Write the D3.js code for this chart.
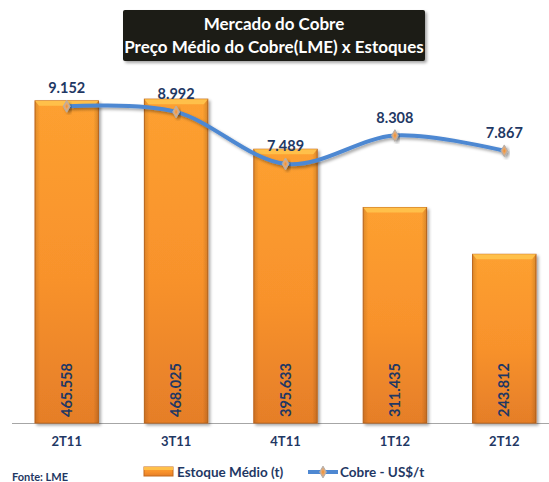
<!DOCTYPE html>
<html><head><meta charset="utf-8">
<script src="https://cdn.jsdelivr.net/npm/d3@7"></script>
<style>
html,body{margin:0;padding:0;background:#fff;}
svg{display:block;font-family:Lato,"Open Sans",sans-serif;}
</style></head>
<body><svg id="c" width="549" height="482"></svg>
<script>
const categories = ["2T11","3T11","4T11","1T12","2T12"];
const stockValues = [465558, 468025, 395633, 311435, 243812];
const priceValues = [9152, 8992, 7489, 8308, 7867];
const stockDomain = [0, 500000];
const priceDomain = [0, 10000];
const titleLines = ["Mercado do Cobre", "Preço Médio do Cobre(LME) x Estoques"];
const sourceText = "Fonte: LME";
const legendLabels = ["Estoque Médio (t)", "Cobre - US$/t"];

const ptBR = d3.formatLocale({decimal:",", thousands:".", grouping:[3], currency:["R$",""]});
const fmt = ptBR.format(",d");
const navy = "#1f3864";

const svg = d3.select("#c");
const defs = svg.append("defs");
const g1 = defs.append("linearGradient").attr("id","barGrad").attr("x1",0).attr("y1",0).attr("x2",0).attr("y2",1);
g1.append("stop").attr("offset","0%").attr("stop-color","#fda030");
g1.append("stop").attr("offset","55%").attr("stop-color","#f8922c");
g1.append("stop").attr("offset","100%").attr("stop-color","#e57e28");
const g2 = defs.append("linearGradient").attr("id","barSide").attr("x1",0).attr("y1",0).attr("x2",1).attr("y2",0);
g2.append("stop").attr("offset","0%").attr("stop-color","#000").attr("stop-opacity",0.12);
g2.append("stop").attr("offset","8%").attr("stop-color","#000").attr("stop-opacity",0);
g2.append("stop").attr("offset","92%").attr("stop-color","#000").attr("stop-opacity",0);
g2.append("stop").attr("offset","100%").attr("stop-color","#000").attr("stop-opacity",0.15);
const g3 = defs.append("radialGradient").attr("id","mkGrad");
g3.append("stop").attr("offset","0%").attr("stop-color","#f0902a");
g3.append("stop").attr("offset","45%").attr("stop-color","#e8a870");
g3.append("stop").attr("offset","100%").attr("stop-color","#b8b0aa");
const f = defs.append("filter").attr("id","shadow").attr("x","-20%").attr("y","-20%").attr("width","140%").attr("height","140%");
f.append("feDropShadow").attr("dx",2).attr("dy",2).attr("stdDeviation",1.5).attr("flood-color","#000").attr("flood-opacity",0.35);

const x = d3.scaleBand().domain(categories).range([12, 559]).paddingInner(0.42).paddingOuter(0.21);
const yS = d3.scaleLinear().domain(stockDomain).range([423, 77]);
const yP = d3.scaleLinear().domain(priceDomain).range([423, 77]);

// Title box
svg.append("rect").attr("x",123).attr("y",10).attr("width",302).attr("height",51).attr("rx",2)
  .attr("fill","#1b1a14").attr("filter","url(#shadow)");
svg.selectAll("text.title").data(titleLines).join("text").attr("class","title")
  .attr("x",274).attr("y",(d,i)=>30+i*23).attr("text-anchor","middle")
  .attr("fill","#fff").attr("font-weight","bold").attr("font-size",17).text(d=>d);

// baseline
svg.append("line").attr("x1",12).attr("x2",549).attr("y1",423.5).attr("y2",423.5)
  .attr("stroke","#a6a6a6").attr("stroke-width",1);

// bars
const bars = svg.append("g").selectAll("g").data(categories).join("g");
bars.append("rect").attr("x",d=>x(d)).attr("width",x.bandwidth())
  .attr("y",(d,i)=>yS(stockValues[i])).attr("height",(d,i)=>yS(0)-yS(stockValues[i]))
  .attr("fill","url(#barGrad)").attr("stroke","#c46a1f").attr("stroke-width",1).attr("filter","url(#shadow)");
bars.append("rect").attr("x",d=>x(d)).attr("width",x.bandwidth())
  .attr("y",(d,i)=>yS(stockValues[i])).attr("height",(d,i)=>yS(0)-yS(stockValues[i]))
  .attr("fill","url(#barSide)");
bars.append("path").attr("d",(d,i)=>{
  const x0=x(d), w=x.bandwidth(), y0=yS(stockValues[i]);
  return `M${x0},${y0}L${x0+w},${y0}L${x0+w-4},${y0+5}L${x0+4},${y0+5}Z`;
}).attr("fill","#ffc04a");
bars.append("text")
  .attr("transform",d=>`translate(${x(d)+x.bandwidth()/2+5},417) rotate(-90)`)
  .attr("fill",navy).attr("font-weight","bold").attr("font-size",14.5)
  .text((d,i)=>fmt(stockValues[i]));

// line
const pts = categories.map((c,i)=>[x(c)+x.bandwidth()/2, yP(priceValues[i])]);
svg.append("path").attr("d",d3.line().curve(d3.curveCardinal.tension(0))(pts))
  .attr("fill","none").attr("stroke","#4e88d2").attr("stroke-width",4).attr("filter","url(#shadow)");
const diamond = d3.symbol().type(d3.symbolDiamond).size(40);
svg.selectAll("path.mk").data(pts).join("path").attr("class","mk")
  .attr("transform",d=>`translate(${d[0]},${d[1]})`).attr("d",diamond)
  .attr("fill","url(#mkGrad)").attr("stroke","#b5aea8").attr("stroke-width",1).attr("filter","url(#shadow)");
svg.selectAll("text.pl").data(categories).join("text").attr("class","pl")
  .attr("x",d=>x(d)+x.bandwidth()/2).attr("y",(d,i)=>yP(priceValues[i])-13)
  .attr("text-anchor","middle").attr("fill",navy).attr("font-weight","bold").attr("font-size",14.5)
  .text((d,i)=>fmt(priceValues[i]));

// x axis labels
svg.append("g").attr("transform","translate(0,423)")
  .call(d3.axisBottom(x).tickSize(0).tickPadding(14))
  .call(g=>g.select(".domain").remove())
  .call(g=>g.selectAll("text").attr("fill",navy).attr("font-weight","bold").attr("font-size",13)
    .attr("font-family","Lato,sans-serif"));

// legend
svg.append("text").attr("x",12).attr("y",481).attr("fill",navy).attr("font-weight","bold").attr("font-size",11).text(sourceText);
svg.append("rect").attr("x",144).attr("y",467).attr("width",29).attr("height",9)
  .attr("fill","url(#barGrad)").attr("stroke","#c46a1f");
svg.append("rect").attr("x",144).attr("y",467).attr("width",29).attr("height",3).attr("fill","#ffc04a");
svg.append("text").attr("x",177).attr("y",477).attr("fill",navy).attr("font-weight","bold").attr("font-size",13.5).text(legendLabels[0]);
svg.append("line").attr("x1",308).attr("x2",338).attr("y1",472).attr("y2",472).attr("stroke","#4e88d2").attr("stroke-width",4);
svg.append("path").attr("transform","translate(323,472)").attr("d",diamond)
  .attr("fill","url(#mkGrad)").attr("stroke","#b5aea8").attr("stroke-width",1);
svg.append("text").attr("x",340).attr("y",477).attr("fill",navy).attr("font-weight","bold").attr("font-size",13.5).text(legendLabels[1]);
</script></body></html>
